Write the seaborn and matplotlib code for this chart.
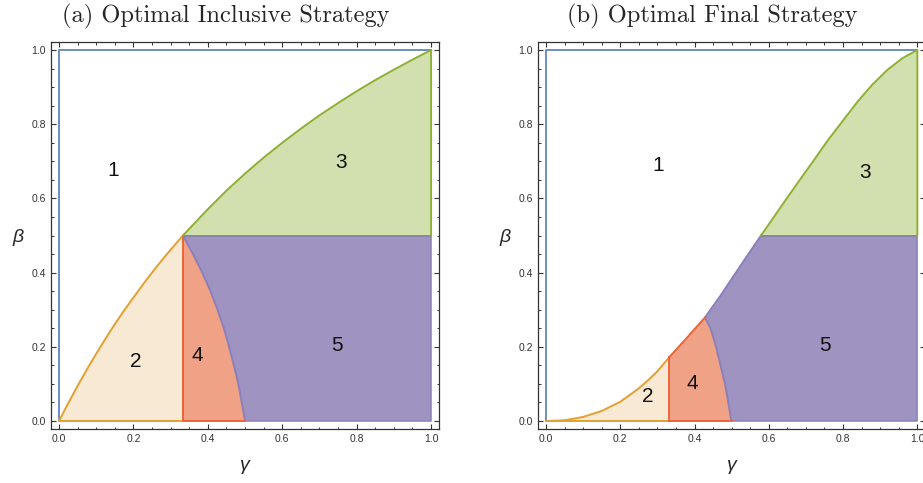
import matplotlib
matplotlib.use('Agg')
import matplotlib.pyplot as plt
import seaborn as sns
from matplotlib.ticker import MultipleLocator

# boundaries of the strategy regions (gamma, beta)
# (a) optimal inclusive strategy
inc_r2_gamma = [0, 0.02, 0.05, 0.08, 0.11, 0.14, 0.17, 0.2, 0.23, 0.26, 0.29, 0.333]
inc_r2_beta = [0, 0.039, 0.095, 0.148, 0.198, 0.246, 0.291, 0.333, 0.374, 0.413, 0.45, 0.5]
inc_r3_gamma = [0.333, 0.4, 0.45, 0.5, 0.55, 0.6, 0.65, 0.7, 0.75, 0.8, 0.85, 0.9, 0.95, 1.0]
inc_r3_beta = [0.5, 0.571, 0.621, 0.667, 0.71, 0.75, 0.788, 0.824, 0.857, 0.889, 0.919, 0.947, 0.974, 1.0]
inc_split_gamma = [0.333, 0.36, 0.385, 0.407, 0.426, 0.443, 0.457, 0.47, 0.482, 0.491, 0.5]
inc_split_beta = [0.5, 0.45, 0.4, 0.35, 0.3, 0.25, 0.2, 0.15, 0.1, 0.05, 0]

# (b) optimal final strategy
fin_r2_gamma = [0, 0.05, 0.1, 0.15, 0.2, 0.25, 0.275, 0.3, 0.332]
fin_r2_beta = [0, 0.002, 0.011, 0.027, 0.052, 0.088, 0.11, 0.134, 0.172]
fin_r4_gamma = [0.332, 0.38, 0.428]
fin_r4_beta = [0.172, 0.225, 0.279]
fin_r5_gamma = [0.428, 0.47, 0.51, 0.545, 0.579]
fin_r5_beta = [0.279, 0.338, 0.398, 0.45, 0.5]
fin_r3_gamma = [0.579, 0.6, 0.64, 0.68, 0.72, 0.76, 0.8, 0.84, 0.88, 0.92, 0.96, 1.0]
fin_r3_beta = [0.5, 0.53, 0.588, 0.645, 0.701, 0.758, 0.81, 0.862, 0.908, 0.947, 0.978, 1.0]
fin_split_gamma = [0.428, 0.443, 0.458, 0.47, 0.482, 0.491, 0.499]
fin_split_beta = [0.279, 0.25, 0.2, 0.15, 0.1, 0.05, 0]

region_names = ['1', '2', '3', '4', '5']

blue = '#6B8CC4'
edge_c = {'2': '#E3A02F', '3': '#8FB032', '4': '#EC6438', '5': '#8C80BA'}
fill_c = {'2': '#F8E9D4', '3': '#D2E0AF', '4': '#F0A287', '5': '#9F93C1'}

sns.set_theme(style='ticks')
plt.rcParams['font.family'] = ['Liberation Sans', 'DejaVu Sans']
plt.rcParams.update({
    'xtick.direction': 'in', 'ytick.direction': 'in',
    'xtick.top': True, 'ytick.right': True,
    'xtick.major.size': 3.3, 'ytick.major.size': 3.3,
    'xtick.minor.size': 1.8, 'ytick.minor.size': 1.8,
    'xtick.major.width': 0.8, 'ytick.major.width': 0.8,
    'xtick.minor.width': 0.7, 'ytick.minor.width': 0.7,
    'xtick.color': '#333333', 'ytick.color': '#333333',
    'xtick.labelsize': 7.5, 'ytick.labelsize': 7.5,
    'xtick.major.pad': 3.5, 'ytick.major.pad': 3.5,
    'axes.edgecolor': '#333333', 'axes.linewidth': 0.9,
})


def edge(ax, g, b, color, lw=1.4):
    sns.lineplot(x=g, y=b, sort=False, estimator=None, color=color, lw=lw, ax=ax)


def style_axes(ax):
    ax.set_xlim(-0.0215, 1.0215)
    ax.set_ylim(-0.0215, 1.0215)
    ax.xaxis.set_major_locator(MultipleLocator(0.2))
    ax.yaxis.set_major_locator(MultipleLocator(0.2))
    ax.xaxis.set_minor_locator(MultipleLocator(0.05))
    ax.yaxis.set_minor_locator(MultipleLocator(0.05))
    ax.xaxis.set_major_formatter(lambda v, p: f'{v:.1f}')
    ax.yaxis.set_major_formatter(lambda v, p: f'{v:.1f}')
    ax.tick_params(which='both', top=True, right=True, labeltop=False, labelright=False)
    ax.set_xlabel('γ', fontsize=14, style='italic')
    ax.set_ylabel('β', fontsize=14, style='italic', rotation=0)
    ax.xaxis.set_label_coords(0.5, -0.095)
    ax.xaxis.label.set_va('center')
    ax.yaxis.set_label_coords(-0.085, 0.496)
    ax.yaxis.label.set_va('center')
    ax.yaxis.label.set_ha('center')
    ax.set_facecolor('white')


fig = plt.figure(figsize=(9.23, 4.83), dpi=100)
ax_a = fig.add_axes([0.0553, 0.1118, 0.4204, 0.8012])
ax_b = fig.add_axes([0.5829, 0.1118, 0.4196, 0.8012])

# ---- (a) inclusive ----
ax = ax_a
g2 = inc_r2_gamma + [inc_r2_gamma[-1]]
b2 = inc_r2_beta + [0]
ax.fill(g2, b2, color=fill_c['2'], lw=0)
g4 = [inc_split_gamma[0]] + inc_split_gamma
b4 = [0] + inc_split_beta
ax.fill(g4, b4, color=fill_c['4'], lw=0)
g5 = inc_split_gamma[::-1] + [1, 1]
b5 = inc_split_beta[::-1] + [0.5, 0]
ax.fill(g5, b5, color=fill_c['5'], lw=0)
g3 = inc_r3_gamma + [1]
b3 = inc_r3_beta + [0.5]
ax.fill(g3, b3, color=fill_c['3'], lw=0)

edge(ax, [0, 0, 1], [0, 1, 1], blue)
edge(ax, [0.5, 1, 1], [0, 0, 0.5], edge_c['5'], lw=1.1)
edge(ax, [inc_r3_gamma[0], 1], [0.5, 0.5], '#8A84A6', lw=1.4)
edge(ax, inc_split_gamma, inc_split_beta, edge_c['5'])
edge(ax, inc_r2_gamma, inc_r2_beta, edge_c['2'])
edge(ax, [0, inc_r2_gamma[-1]], [0, 0], edge_c['2'])
edge(ax, [inc_r2_gamma[-1], inc_r2_gamma[-1], inc_r2_gamma[-1], 0.5],
     [inc_r2_beta[-1], 0, 0, 0], edge_c['4'])
edge(ax, inc_r3_gamma + [1, 1], inc_r3_beta + [1, 0.5], edge_c['3'])

for name, (gx, by) in zip(region_names, [(0.145, 0.675), (0.207, 0.161), (0.758, 0.696),
                                           (0.371, 0.177), (0.747, 0.204)]):
    ax.text(gx, by, name, fontsize=15, ha='center', va='center', color='#111111')
style_axes(ax)

# ---- (b) final ----
ax = ax_b
g2 = fin_r2_gamma + [fin_r2_gamma[-1]]
b2 = fin_r2_beta + [0]
ax.fill(g2, b2, color=fill_c['2'], lw=0)
g4 = [fin_r4_gamma[0]] + fin_r4_gamma + fin_split_gamma[1:]
b4 = [0] + fin_r4_beta + fin_split_beta[1:]
ax.fill(g4, b4, color=fill_c['4'], lw=0)
g5 = fin_split_gamma[::-1] + fin_r5_gamma[1:] + [1, 1]
b5 = fin_split_beta[::-1] + fin_r5_beta[1:] + [0.5, 0]
ax.fill(g5, b5, color=fill_c['5'], lw=0)
g3 = fin_r3_gamma + [1]
b3 = fin_r3_beta + [0.5]
ax.fill(g3, b3, color=fill_c['3'], lw=0)

edge(ax, [0, 0, 1], [0, 1, 1], blue)
edge(ax, [0.5, 1, 1], [0, 0, 0.5], edge_c['5'], lw=1.1)
edge(ax, [fin_r3_gamma[0], 1], [0.5, 0.5], '#8A84A6', lw=1.4)
edge(ax, fin_split_gamma, fin_split_beta, edge_c['5'])
edge(ax, fin_r5_gamma, fin_r5_beta, edge_c['5'])
edge(ax, fin_r2_gamma, fin_r2_beta, edge_c['2'])
edge(ax, [0, fin_r2_gamma[-1]], [0, 0], edge_c['2'])
edge(ax, [fin_r2_gamma[-1], fin_r2_gamma[-1]], [0, fin_r2_beta[-1]], edge_c['4'])
edge(ax, fin_r4_gamma, fin_r4_beta, edge_c['4'])
edge(ax, [fin_r2_gamma[-1], 0.5], [0, 0], edge_c['4'])
edge(ax, fin_r3_gamma + [1, 1], fin_r3_beta + [1, 0.5], edge_c['3'])

for name, (gx, by) in zip(region_names, [(0.302, 0.688), (0.275, 0.065), (0.859, 0.669),
                                           (0.393, 0.102), (0.751, 0.204)]):
    ax.text(gx, by, name, fontsize=15, ha='center', va='center', color='#111111')
style_axes(ax)

fig.text(226 / 923, 1 - 16 / 483, '(a) Optimal Inclusive Strategy',
         ha='center', va='center', family='cmr10', fontsize=17.6)
fig.text(712 / 923, 1 - 16 / 483, '(b) Optimal Final Strategy',
         ha='center', va='center', family='cmr10', fontsize=17.6)

fig.savefig('out.png', dpi=100)
